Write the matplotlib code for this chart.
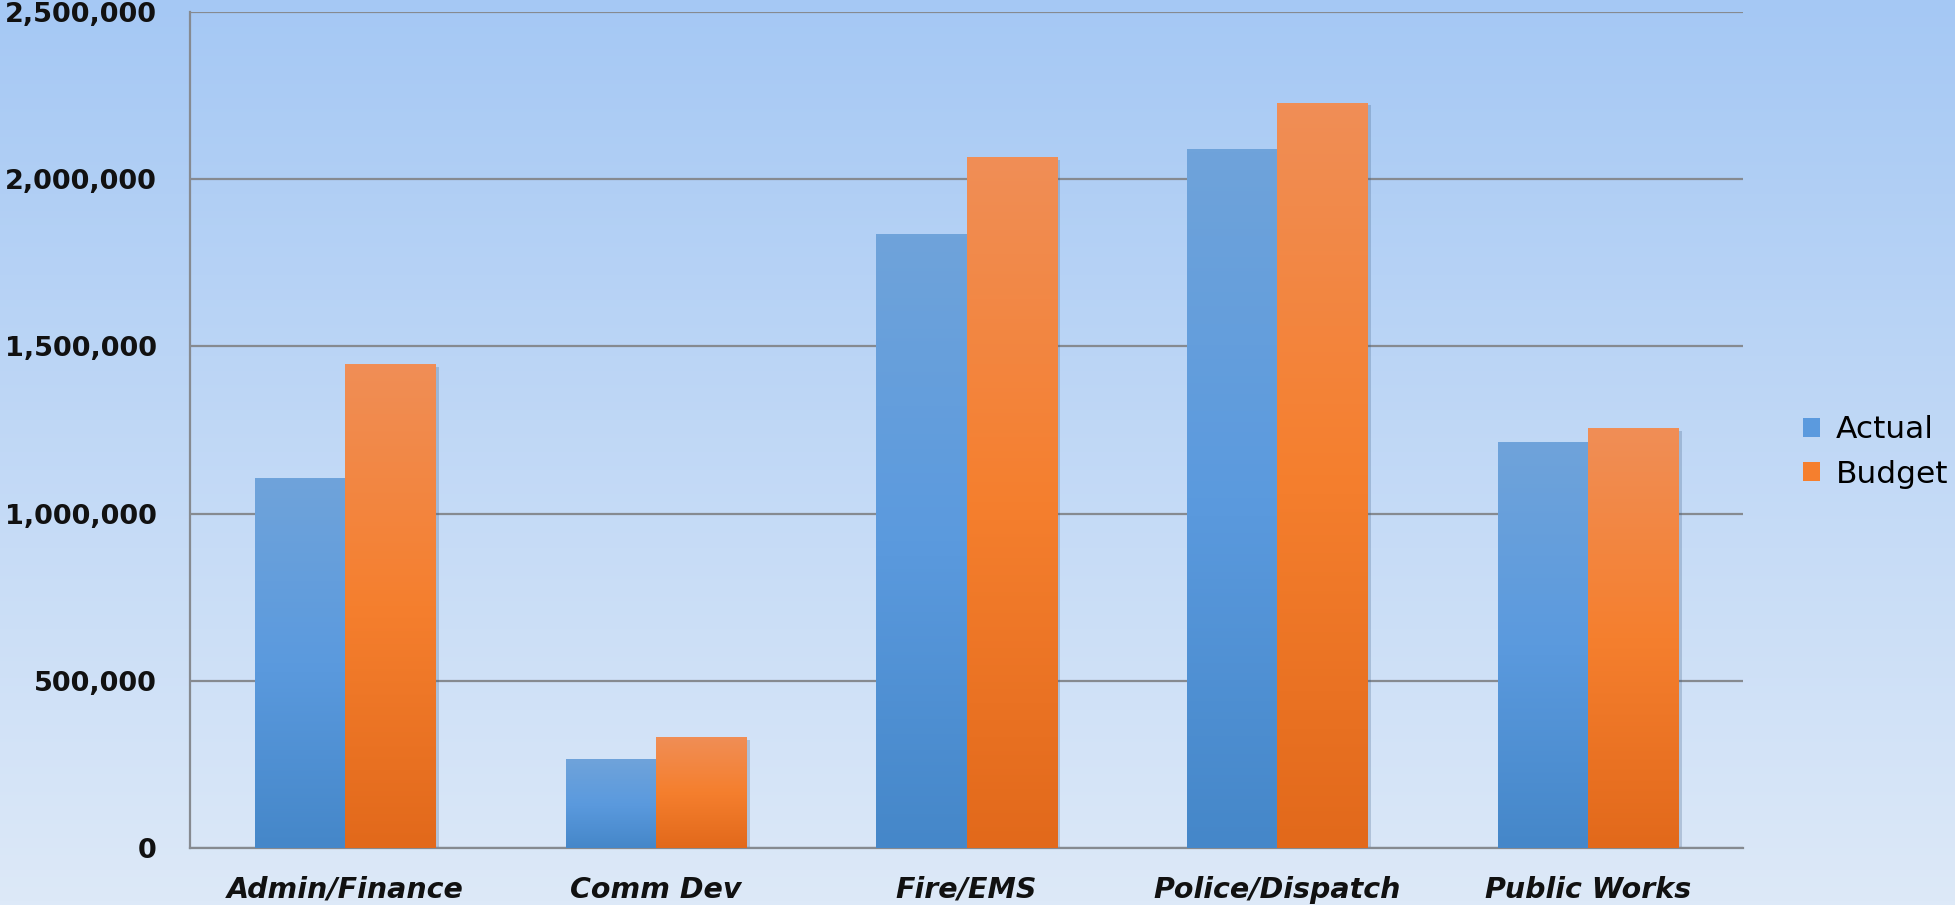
import matplotlib

matplotlib.use("Agg")
import matplotlib.pyplot as plt
import numpy as np
from matplotlib.colors import LinearSegmentedColormap
from matplotlib.patches import Patch
from matplotlib.ticker import FuncFormatter

categories = ["Admin/Finance", "Comm Dev", "Fire/EMS", "Police/Dispatch", "Public Works"]
actual = [1106000, 266000, 1836000, 2090000, 1214000]
budget = [1447000, 332000, 2066000, 2229000, 1256000]
series_names = ["Actual", "Budget"]

blue_top, blue_mid, blue_bot = "#6fa3da", "#5b9ade", "#4587c9"
orange_top, orange_mid, orange_bot = "#f08e56", "#f57f2e", "#e2691b"

fig = plt.figure(figsize=(19.55, 9.05), dpi=100)

# background gradient
bg = fig.add_axes([0, 0, 1, 1], zorder=-10)
bg_cmap = LinearSegmentedColormap.from_list("bg", ["#dde9f8", "#a5c8f4"])
bg.imshow(np.linspace(0, 1, 256).reshape(-1, 1)[::-1], aspect="auto", cmap=bg_cmap,
          extent=[0, 1, 0, 1])
bg.axis("off")

ax = fig.add_axes([0.0972, 0.063, 0.7944, 0.9237])
ax.patch.set_alpha(0)

x = np.arange(len(categories))
w = 0.29


def gradient_bars(xs, vals, colors):
    cmap = LinearSegmentedColormap.from_list("g", colors[::-1])
    bars = ax.bar(xs, vals, width=w, color="none", zorder=3)
    grad = np.linspace(0, 1, 200).reshape(-1, 1)[::-1]
    for b in bars:
        x0, y0 = b.get_x(), b.get_y()
        im = ax.imshow(grad, aspect="auto", cmap=cmap, zorder=3,
                       extent=[x0, x0 + b.get_width(), y0, y0 + b.get_height()])
        im.set_clip_path(b)
    # soft shadow on the right
    for b in bars:
        sh = plt.Rectangle((b.get_x() + 0.012, 0), b.get_width(), b.get_height() - 8000,
                           color="#3a5a80", alpha=0.25, zorder=2, lw=0)
        ax.add_patch(sh)
    return bars


gradient_bars(x - w / 2, actual, [blue_top, blue_mid, blue_bot])
gradient_bars(x + w / 2, budget, [orange_top, orange_mid, orange_bot])

ax.set_xlim(-0.5, len(categories) - 0.5)
ax.set_ylim(0, 2500000)
ax.set_yticks(np.arange(0, 2500001, 500000))
ax.yaxis.set_major_formatter(FuncFormatter(lambda v, p: f"{int(v):,}"))
ax.grid(axis="y", color="#868a90", lw=1.6, zorder=1)
ax.set_axisbelow(True)

for s in ["top", "right"]:
    ax.spines[s].set_visible(False)
for s in ["left", "bottom"]:
    ax.spines[s].set_color("#868a90")
    ax.spines[s].set_linewidth(1.6)

ax.tick_params(axis="both", length=0)
ax.tick_params(axis="y", pad=24)
ax.tick_params(axis="x", pad=20)
for lab in ax.get_yticklabels():
    lab.set_fontsize(19.5)
    lab.set_fontweight("bold")
    lab.set_color("#111111")
ax.set_xticks(x)
ax.set_xticklabels(categories, fontsize=20.5, fontweight="bold", style="italic", color="#111111")

handles = [Patch(facecolor=blue_mid, label=series_names[0]),
           Patch(facecolor=orange_mid, label=series_names[1])]
fig.legend(handles=handles, loc="center left", bbox_to_anchor=(0.9223, 0.5006), frameon=False,
           fontsize=22.5, handlelength=0.55, handleheight=0.55, handletextpad=0.5,
           labelspacing=0.5, borderpad=0, borderaxespad=0)

fig.savefig("out.png", dpi=100)
